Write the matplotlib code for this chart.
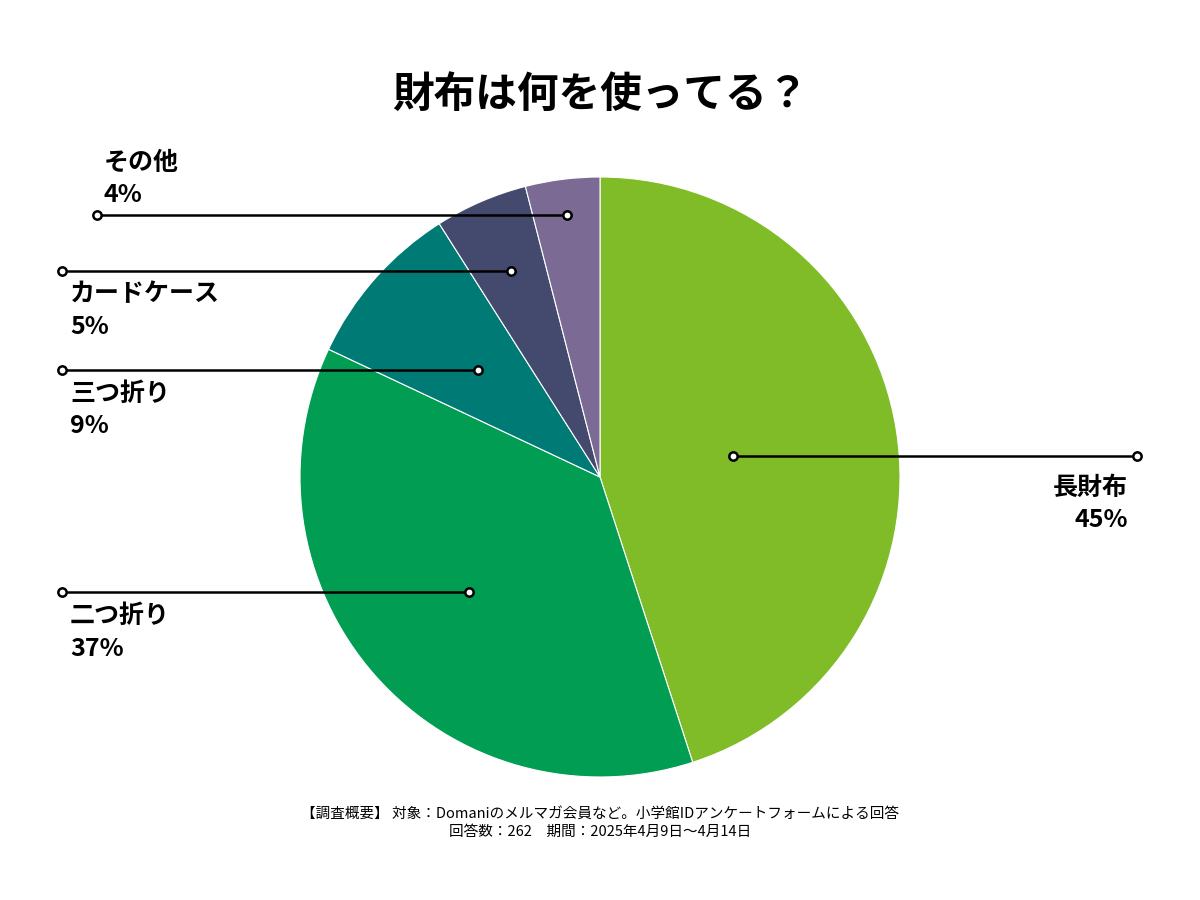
import numpy as np
import matplotlib
matplotlib.use("Agg")
import matplotlib.pyplot as plt

plt.rcParams["font.family"] = "Noto Sans CJK JP"

categories = ["長財布", "二つ折り", "三つ折り", "カードケース", "その他"]
values = [45, 37, 9, 5, 4]
colors = ["#7fbc27", "#009d52", "#007a74", "#434a6e", "#7b6a94"]

# layout: inner dot radius fraction, outer x end
dot_r = [0.45, 0.58, 0.54, 0.75, 0.88]
end_x = [1137, 62, 62, 62, 97]

fig = plt.figure(figsize=(12, 9), dpi=100)
ax = fig.add_axes([0, 0, 1, 1])
ax.set_xlim(0, 1200)
ax.set_ylim(0, 900)
ax.set_aspect("equal")
ax.axis("off")

cx, cy, R = 600, 423, 300
ax.pie(values, colors=colors, startangle=90, counterclock=False,
       center=(cx, cy), radius=R, wedgeprops=dict(linewidth=0.8, edgecolor="white"),
       frame=True)
ax.set_xlim(0, 1200); ax.set_ylim(0, 900); ax.axis("off")

cum = 0
for i, (c, v) in enumerate(zip(categories, values)):
    mid = np.deg2rad(90 - (cum + v / 2) * 3.6)
    cum += v
    px = cx + dot_r[i] * R * np.cos(mid)
    py = cy + dot_r[i] * R * np.sin(mid)
    ex = end_x[i]
    ax.plot([px, ex], [py, py], color="black", lw=1.8, zorder=3)
    for x in (px, ex):
        ax.plot(x, py, "o", ms=6, mfc="white", mec="black", mew=1.8, zorder=4)
    if ex > cx:
        ax.text(1128, py - 20, f"{c}\n{v}%", ha="right", va="top", fontsize=18,
                fontweight="bold", linespacing=1.45)
    else:
        ax.text(70 if i < 4 else 104, py + 8 if i == 4 else py - 12,
                f"{c}\n{v}%", ha="left", va="bottom" if i == 4 else "top",
                fontsize=18, fontweight="bold", linespacing=1.45)

fig.text(0.5, 0.895, "財布は何を使ってる？", ha="center", va="center",
         fontsize=30, fontweight="bold")
fig.text(0.5, 0.085, "【調査概要】 対象：Domaniのメルマガ会員など。小学館IDアンケートフォームによる回答\n回答数：262　期間：2025年4月9日〜4月14日",
         ha="center", va="center", fontsize=10.5, linespacing=1.3)

fig.savefig("out.png", dpi=100, facecolor="white")
